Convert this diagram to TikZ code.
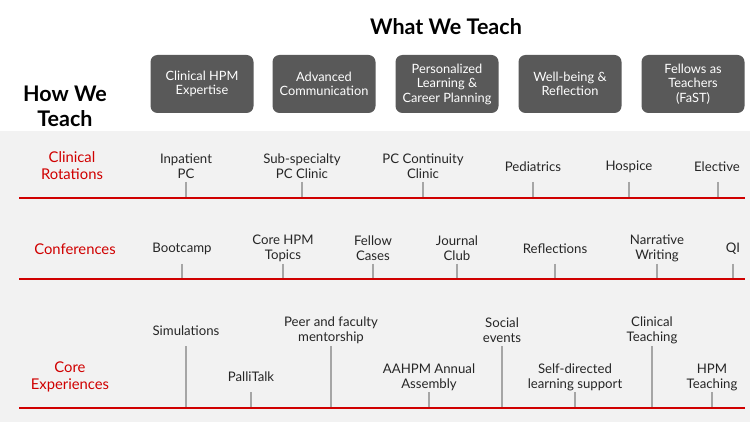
\documentclass[tikz,border=0pt]{standalone}
\usepackage{fontspec}
\setmainfont{Lato}
\newfontfamily\blackfont{Lato Black}
\definecolor{bg}{HTML}{F2F2F2}
\definecolor{boxgray}{HTML}{595959}
\definecolor{hred}{HTML}{D00000}
\definecolor{tickgray}{HTML}{A6A6A6}
\definecolor{txt}{HTML}{262626}
\begin{document}
\begin{tikzpicture}[x=1pt,y=-1pt,
  topic/.style={fill=boxgray,rounded corners=7pt,minimum width=103pt,minimum height=58pt,text=white,align=center,font=\fontsize{12.8}{14.5}\selectfont,inner sep=0pt},
  item/.style={align=center,text=txt,font=\fontsize{13.2}{15}\selectfont,inner sep=0pt},
  rowlabel/.style={align=center,text=hred,font=\fontsize{14.8}{17}\selectfont,inner sep=0pt},
  title/.style={align=center,text=black,font=\bfseries\fontsize{21.5}{25}\selectfont,inner sep=0pt},
  redline/.style={draw=hred,line width=2.4pt},
  tick/.style={draw=tickgray,line width=1.2pt}]
\useasboundingbox (0,0) rectangle (750,422);
\fill[white] (0,0) rectangle (750,131);
\fill[bg] (0,131) rectangle (750,422);
% titles
\node[title] (what) at (446,27) {What We Teach};
\node[title] (how) at (65,106) {How We\\Teach};
% topic boxes
\node[topic] (b1) at (202,84) {Clinical HPM\\Expertise};
\node[topic] (b2) at (324,84) {Advanced\\Communication};
\node[topic] (b3) at (447,84) {Personalized\\Learning \&\\Career Planning};
\node[topic] (b4) at (570,84) {Well-being \&\\Reflection};
\node[topic] (b5) at (693,84) {Fellows as\\Teachers\\(FaST)};
% row lines
\coordinate (l1a) at (19,198); \coordinate (l1b) at (745,198);
\coordinate (l2a) at (19,279); \coordinate (l2b) at (745,279);
\coordinate (l3a) at (19,408); \coordinate (l3b) at (745,408);
% row labels
\node[rowlabel] (r1) at (72,166) {Clinical\\Rotations};
\node[rowlabel] (r2) at (75,249) {Conferences};
\node[rowlabel] (r3) at (70,377) {Core\\Experiences};
% row 1 items
\node[item] (a1) at (186,166) {Inpatient\\PC};
\node[item] (a2) at (302,166) {Sub-specialty\\PC Clinic};
\node[item] (a3) at (423,166) {PC Continuity\\Clinic};
\node[item] (a4) at (533,167) {Pediatrics};
\node[item] (a5) at (629,167) {Hospice};
\node[item] (a6) at (717,167) {Elective};
\foreach \n/\x in {a1/186,a2/302,a3/423,a4/533,a5/629,a6/718}{
  \coordinate (\n t) at (\x,182);
  \draw[tick] (\n t) -- (\n t |- l1a);
}
% row 2 items
\node[item] (c1) at (182,249) {Bootcamp};
\node[item] (c2) at (283,248) {Core HPM\\Topics};
\node[item] (c3) at (373,248) {Fellow\\Cases};
\node[item] (c4) at (457,248) {Journal\\Club};
\node[item] (c5) at (555,249) {Reflections};
\node[item] (c6) at (657,248) {Narrative\\Writing};
\node[item] (c7) at (733,249) {QI};
\foreach \n/\x in {c1/182,c2/283,c3/373,c4/457,c5/555,c6/657,c7/733}{
  \coordinate (\n t) at (\x,264);
  \draw[tick] (\n t) -- (\n t |- l2a);
}
% row 3 items
\node[item] (e1) at (186,331) {Simulations};
\node[item] (e2) at (251,377) {PalliTalk};
\node[item] (e3) at (331,330) {Peer and faculty\\mentorship};
\node[item] (e4) at (429,377) {AAHPM Annual\\Assembly};
\node[item] (e5) at (502,330) {Social\\events};
\node[item] (e6) at (575,377) {Self-directed\\learning support};
\node[item] (e7) at (652,330) {Clinical\\Teaching};
\node[item] (e8) at (712,377) {HPM\\Teaching};
\foreach \n/\x/\t in {e1/186/346,e2/251/392,e3/331/346,e4/429/392,e5/502/346,e6/575/392,e7/652/346,e8/712/392}{
  \coordinate (\n t) at (\x,\t);
  \draw[tick] (\n t) -- (\n t |- l3a);
}
\draw[redline] (l1a) -- (l1b);
\draw[redline] (l2a) -- (l2b);
\draw[redline] (l3a) -- (l3b);
\end{tikzpicture}
\end{document}
